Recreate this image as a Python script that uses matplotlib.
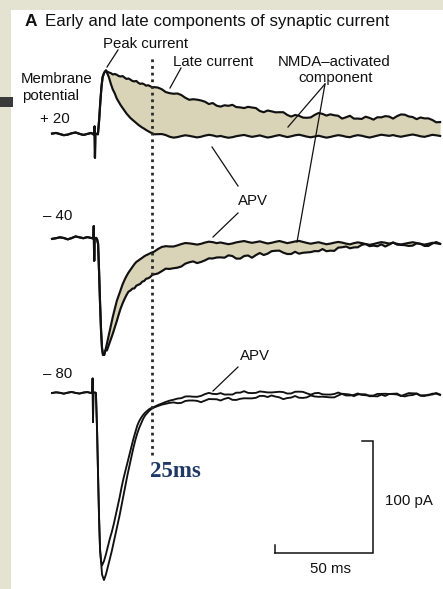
import numpy as np
import matplotlib
matplotlib.use('Agg')
import matplotlib.pyplot as plt
from matplotlib.patches import Rectangle
from matplotlib.lines import Line2D

# ---------------- data (ms, pA relative to each holding-potential baseline) ----------------
holding_labels = ['+ 20', '– 40', '– 80']
trace_offsets = [406, 313, 175]          # pA, vertical stacking of the three recordings

t_pre = np.arange(-26, -5, 2)            # sample times before the stimulus
p20_pre = [0.6, 1.2, 0.2, -0.8, -0.3, 0.9, 1.6, 0.4, -0.6, 0.3, 1.2]
m40_pre = [-0.4, 0.2, 1.0, 0.4, -0.8, 0.3, 1.8, 1.0, 0.2, 1.2, 0.4]
m80_pre = [0.0, 0.6, 0.2, -0.6, 0.3, 0.9, 0.1, -0.5, 0.4, 0.8, 0.0]

# stimulus artifact + rise to peak (shared by control and APV)
p20_t_mid = [-5.0, -4.5, -4.3, -4.1, -3.9, -3.2, -2.6, -2.0, -1.4, -0.8, -0.2, 0.6, 1.5]
p20_mid = [0.0, 0.0, 7.0, -21.0, 0.0, 0.5, 0.0, 12.0, 28.0, 42.0, 51.0, 55.0, 57.0]
m40_t_mid = [-5.0, -4.9, -4.7, -4.5, -4.3, -3.5, -3.0, -2.5, -2.0, -1.5, -1.0, -0.5, 0.0, 0.6, 1.2]
m40_mid = [0.0, 0.0, 11.0, -20.0, 0.0, 0.5, -1.0, -5.0, -30.0, -58.0, -82.0, -98.0, -104.0, -104.0, -100.0]
m80_t_mid = [-5.6, -5.5, -5.3, -5.1, -4.9, -4.2, -3.6, -3.0, -2.5, -2.0, -1.5, -1.0]
m80_mid = [0.0, 0.0, 13.0, -26.0, 0.0, 0.5, 0.0, -35.0, -75.0, -112.0, -140.0, -150.0]

t_early = np.arange(2, 26)               # 2 .. 25 ms
p20_ctl_early = [56, 55.2, 54.6, 53.4, 53.8, 53.2, 52.0, 51.6, 52.0, 50.6, 49.4, 49.8, 48.8, 47.6, 47.2,
                 47.6, 46.0, 45.0, 45.4, 44.6, 43.4, 43.8, 43.0, 42.0]
p20_apv_early = [55, 51, 45, 40, 36.5, 32, 29, 26, 23.5, 21, 18.5, 16.5, 14.5, 13, 11.5, 10,
                 8.5, 7.2, 6, 5, 3.8, 2.8, 1.8, 1.0]
m40_apv_early = [-94, -86, -78, -70, -63, -56, -51, -46, -41, -37, -33.5, -30.5, -28, -25.5, -23, -21,
                 -19.8, -18.5, -17.3, -16, -15, -14.2, -13.3, -12.5]
m40_ctl_early = [-100, -95, -90, -85, -79.5, -74, -68, -62.5, -58, -54, -50.5, -47.5, -46.5, -44.8, -44.6,
                 -42.2, -41.4, -40.6, -38.6, -38.0, -36.0, -35.6, -34.6, -32.8]

t_early80 = np.arange(-0.5, 25, 1.0)     # -0.5 .. 24.5 ms
m80_apv_early = [-154, -150, -144, -137, -130, -124, -117, -109, -101, -93, -84, -76, -69, -62, -55, -48,
                 -41, -35, -29, -25, -22, -19.5, -17.5, -16, -14.5, -13.5]
m80_ctl_early = [-162, -167, -162, -155, -148, -141, -133, -125, -117, -109, -100, -91, -82, -73, -65, -57,
                 -49, -42, -36, -31, -27, -23, -20, -18, -16, -14.5]

t_late = np.arange(26, 174, 2)           # 26 .. 172 ms
p20_ctl_late = [42.1, 41.7, 40.2, 37.7, 36.7, 36.2, 36.4, 35.0, 32.6, 30.8,
                31.3, 30.9, 30.2, 29.1, 27.0, 27.9, 25.5, 24.7, 25.9, 25.4,
                26.3, 24.3, 24.0, 23.4, 24.5, 23.9, 23.4, 20.8, 19.7, 21.2,
                20.5, 19.6, 19.7, 19.7, 17.3, 15.8, 17.2, 16.5, 14.9, 14.7,
                15.1, 17.3, 19.0, 18.2, 16.7, 17.8, 17.0, 16.5, 14.0, 15.2,
                16.5, 14.0, 14.0, 13.7, 15.7, 14.6, 13.1, 15.2, 15.1, 16.2,
                15.8, 14.0, 16.2, 17.7, 17.5, 15.9, 15.4, 13.5, 15.0, 14.2,
                14.2, 12.8, 10.7, 10.9]
p20_apv_late = [0.0, 0.1, 0.2, -0.7, -2.2, -3.0, -2.5, -1.6, -0.9, -1.4,
                -2.1, -2.8, -2.2, -1.2, -0.5, -1.0, -2.0, -1.5, -2.4, -3.1,
                -2.6, -1.7, -1.1, -0.6, -1.5, -2.3, -1.7, -1.0, -2.0, -2.9,
                -2.3, -1.4, -0.7, -1.6, -2.5, -1.8, -0.9, -0.4, -1.2, -2.1,
                -2.7, -2.0, -1.3, -2.2, -3.0, -2.4, -1.5, -0.8, -1.3, -2.2,
                -2.6, -1.5, -0.8, -1.3, -2.2, -2.9, -2.1, -1.2, -0.4, -0.9,
                -1.4, -0.7, -1.6, -2.2, -1.5, -0.8, -0.2, -0.9, -1.8, -2.3,
                -1.4, -0.5, -0.9, -1.5]
m40_apv_late = [-11.9, -9.5, -7.6, -6.9, -7.2, -7.2, -6.2, -5.0, -4.1, -4.4,
                -4.9, -5.5, -4.8, -3.7, -2.9, -3.3, -4.2, -3.6, -4.4, -5.1,
                -4.5, -3.5, -2.9, -2.3, -3.2, -3.9, -3.3, -2.6, -3.6, -4.5,
                -3.9, -3.0, -2.3, -3.2, -4.2, -3.5, -2.7, -2.2, -3.1, -4.0,
                -4.7, -4.0, -3.4, -4.3, -5.2, -4.6, -3.8, -3.1, -3.7, -4.6,
                -5.3, -4.2, -3.5, -4.1, -5.0, -5.7, -5.0, -4.1, -3.3, -3.8,
                -4.6, -3.9, -4.8, -5.4, -4.7, -4.0, -3.4, -4.1, -5.0, -5.5,
                -4.8, -3.9, -4.3, -4.9]
m40_ctl_late = [-32.1, -31.3, -29.2, -27.0, -27.2, -26.6, -26.1, -25.0, -22.5, -21.3,
                -20.5, -22.0, -21.0, -19.6, -17.8, -17.9, -17.0, -16.9, -17.2, -15.1,
                -15.7, -18.0, -18.0, -15.7, -15.2, -17.2, -14.9, -13.0, -14.8, -13.6,
                -11.4, -11.0, -10.9, -12.7, -13.9, -13.9, -11.9, -13.6, -12.8, -12.5,
                -12.2, -11.3, -11.4, -9.5, -11.4, -10.9, -11.1, -8.2, -7.9, -7.2,
                -8.8, -8.0, -7.9, -5.7, -5.0, -6.9, -6.4, -7.0, -5.3, -7.2,
                -5.5, -3.5, -5.5, -5.8, -6.0, -6.7, -6.4, -4.4, -4.7, -6.7,
                -6.7, -4.6, -3.2, -4.8]
m80_apv_late = [-12.5, -10.8, -9.4, -8.0, -6.8, -6.0, -5.0, -4.6, -3.1, -3.0,
                -3.3, -3.4, -2.6, -1.0, 0.1, -0.8, -1.0, -0.1, -1.4, -1.3,
                -1.4, 0.3, 0.3, 1.6, 0.1, -0.1, 0.1, 1.4, 1.0, 0.5,
                0.5, 0.8, 1.1, 0.8, -0.5, -0.4, 1.1, 1.2, 1.0, -0.3,
                -1.5, -0.2, 0.1, -1.2, -1.4, -1.4, -0.9, 0.4, -0.9, -2.2,
                -2.2, -1.7, -0.4, -1.7, -2.0, -2.3, -2.3, -0.8, -0.8, -0.7,
                -0.9, -1.0, -1.3, -2.7, -1.4, -0.1, -0.3, -0.4, -2.1, -2.0,
                -2.1, -0.6, -0.6, -1.8]
m80_ctl_late = [-13.0, -11.6, -10.4, -9.6, -8.8, -8.4, -9.1, -8.8, -7.1, -6.7,
                -6.7, -7.0, -8.2, -6.8, -5.4, -5.5, -5.6, -6.7, -5.2, -4.3,
                -6.1, -6.2, -5.2, -4.7, -4.8, -4.8, -4.3, -2.6, -2.6, -3.6,
                -2.2, -3.2, -3.9, -5.5, -4.5, -4.1, -2.7, -4.2, -4.4, -3.9,
                -2.2, -3.1, -3.4, -3.3, -3.6, -3.9, -3.9, -2.2, -0.7, -1.0,
                -1.4, -2.8, -1.3, -1.1, -1.2, -2.9, -2.8, -3.0, -1.5, -2.6,
                -0.9, -0.7, -0.5, -2.4, -3.0, -2.1, -1.8, -0.6, -2.5, -2.7,
                -1.5, -1.4, 0.0, -1.4]

marker_time = 25      # ms, dotted line
scale_ms = 50
scale_pA = 100

# ---------------- figure ----------------
W, H = 443, 589
fig = plt.figure(figsize=(W / 100, H / 100), dpi=100)
fig.patch.set_facecolor('#e4e2d0')


def fx(px):
    return px / W


def fy(py):
    return 1 - py / H


fig.patches.append(Rectangle((fx(11), 0), 1 - fx(11), fy(10), transform=fig.transFigure,
                             facecolor='white', edgecolor='none', zorder=-2))
fig.patches.append(Rectangle((0, fy(107)), fx(13), 10 / H, transform=fig.transFigure,
                             facecolor='#3a3a3a', edgecolor='none', zorder=-1))

ax = fig.add_axes([0, 0, 1, 1])
ax.set_zorder(2)
ax.set_facecolor('none')
ax.patch.set_alpha(0)
ax.axis('off')
PX_MS, PX_PA, T0 = 1.96, 1.12, 103
ax.set_xlim(-T0 / PX_MS, (W - T0) / PX_MS)
ax.set_ylim(0, H / PX_PA)

INK = '#111111'
FILL = '#d9d3b7'


def build(pre, tmid, mid, tearly, early, late):
    t = np.concatenate([t_pre, tmid, tearly, t_late])
    v = np.concatenate([pre, mid, early, late])
    return t, v


traces = [
    (p20_pre, p20_t_mid, p20_mid, t_early, p20_ctl_early, p20_ctl_late, p20_apv_early, p20_apv_late, True),
    (m40_pre, m40_t_mid, m40_mid, t_early, m40_ctl_early, m40_ctl_late, m40_apv_early, m40_apv_late, True),
    (m80_pre, m80_t_mid, m80_mid, t_early80, m80_ctl_early, m80_ctl_late, m80_apv_early, m80_apv_late, False),
]

for (pre, tm, mid, te, ce, cl, ae, al, shade), off in zip(traces, trace_offsets):
    tc, vc = build(pre, tm, mid, te, ce, cl)
    ta, va = build(pre, tm, mid, te, ae, al)
    lw = 1.55 if shade else 1.35
    if shade:
        tt = np.concatenate([te, t_late])
        ax.fill_between(tt, np.concatenate([ce, cl]) + off, np.concatenate([ae, al]) + off,
                        color=FILL, lw=0, zorder=2)
    ax.plot(tc, vc + off, color=INK, lw=lw, zorder=3, solid_joinstyle='round')
    ax.plot(ta, va + off, color=INK, lw=lw, zorder=3, solid_joinstyle='round')

# dotted 25 ms marker
ax.plot([marker_time, marker_time], [(H - 455) / PX_PA, (H - 55) / PX_PA], color='#2a2a2a', lw=2.0,
        linestyle=(0, (1, 1.4)), dash_capstyle='butt', zorder=4)

# scale bars
sx = (373 - T0) / PX_MS
sy = (H - 553) / PX_PA
ax.plot([sx - scale_ms, sx, sx, sx - 5.6], [sy, sy, sy + scale_pA, sy + scale_pA], color=INK, lw=1.1,
        solid_joinstyle='miter')
ax.plot([sx - scale_ms, sx - scale_ms], [sy, sy + 7.2], color=INK, lw=1.1)

# pointer lines (pixel coordinates)
pointers = [((118, 50), (107, 67)), ((181, 68), (170, 88)), ((325, 84), (288, 127)),
            ((325, 84), (297, 242)), ((238, 186), (212, 147)), ((238, 213), (213, 237)),
            ((238, 367), (213, 391))]
for (x0, y0), (x1, y1) in pointers:
    fig.lines.append(Line2D([fx(x0), fx(x1)], [fy(y0), fy(y1)], transform=fig.transFigure,
                            color=INK, lw=0.9, zorder=5))

SANS = ['Liberation Sans', 'DejaVu Sans']
FS = 10.8


def label(x, y, s, size=FS, **kw):
    fig.text(fx(x), fy(y), s, fontsize=size, family=kw.pop('family', SANS), color=kw.pop('color', INK),
             va='baseline', ha='left', zorder=6, **kw)


label(25, 26, 'A', size=12.5, weight='bold')
label(45, 26, 'Early and late components of synaptic current', size=12.2)
label(103, 48, 'Peak current')
label(173, 66, 'Late current')
label(278, 66, 'NMDA–activated')
label(298, 82, 'component')
label(21, 83, 'Membrane')
label(22, 100, 'potential')
label(40, 123, holding_labels[0])
label(43, 220, holding_labels[1])
label(43, 378, holding_labels[2])
label(238, 205, 'APV')
label(240, 360, 'APV')
label(385, 505, f'{scale_pA} pA')
label(310, 573, f'{scale_ms} ms')
label(150, 477, f'{marker_time}ms', size=16.5, family=['Liberation Serif', 'DejaVu Serif'],
      color='#1f3864', weight='bold')

fig.savefig('out.png', dpi=100, facecolor=fig.get_facecolor())
